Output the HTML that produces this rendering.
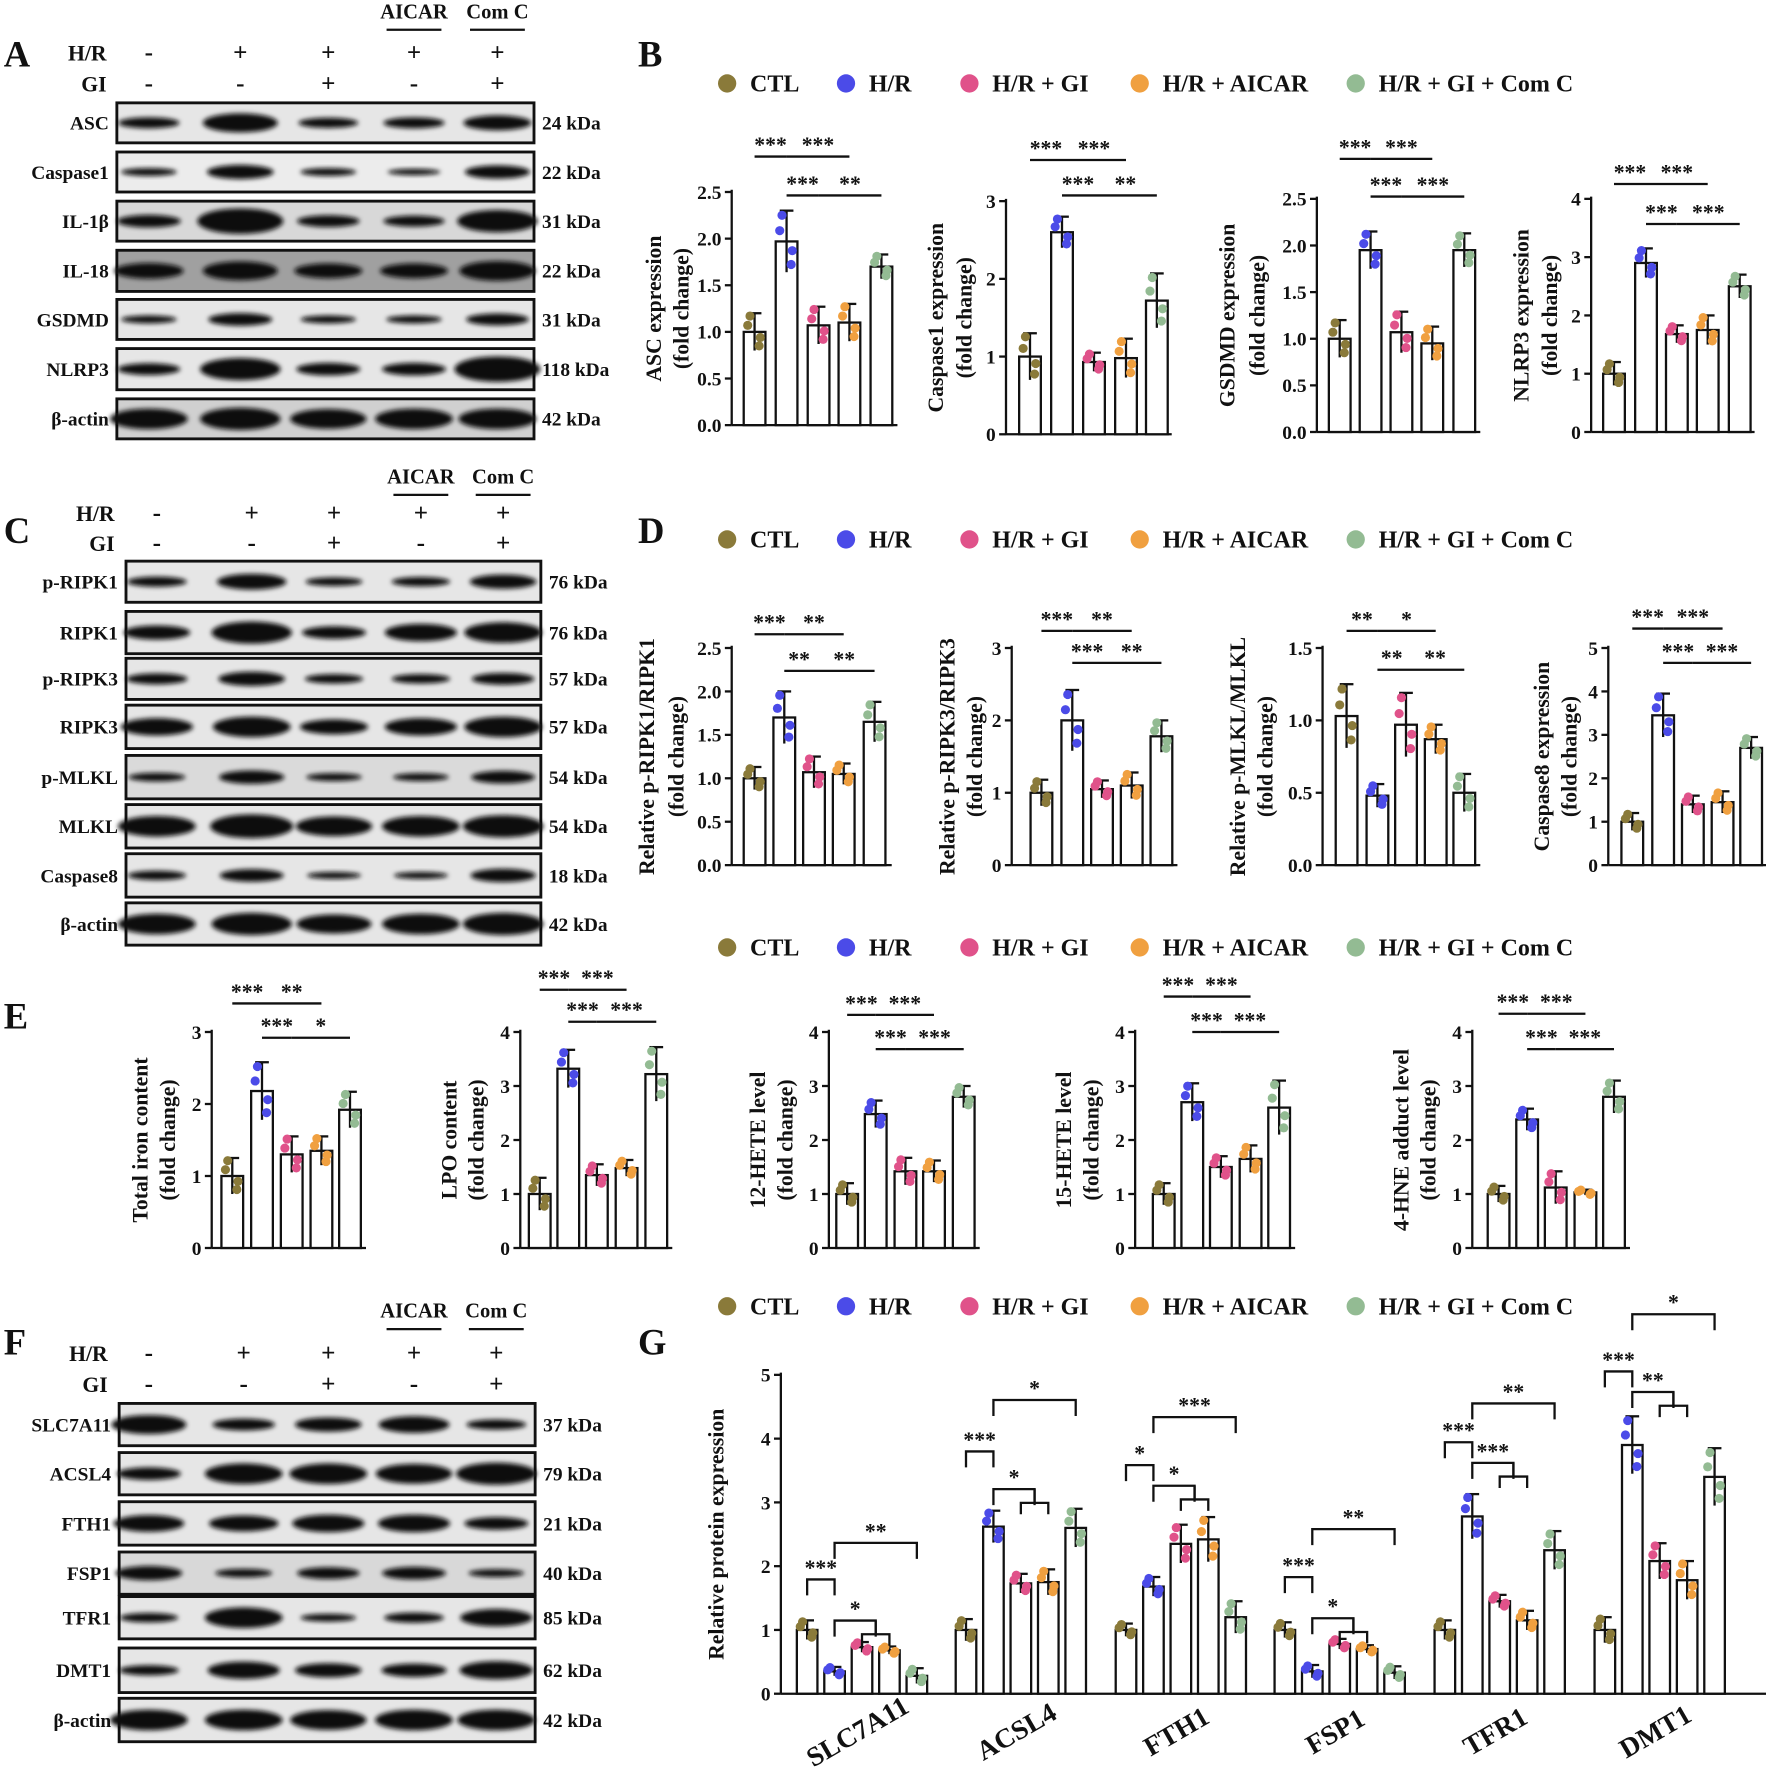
<!DOCTYPE html>
<html><head><meta charset="utf-8">
<style>
html,body{margin:0;padding:0;background:#fff;}
svg{display:block;font-family:"Liberation Serif",serif;font-weight:bold;}
</style></head>
<body>
<svg id="fig" width="1772" height="1792" viewBox="0 0 1550 1568" xmlns="http://www.w3.org/2000/svg">
<defs><filter id="blur" x="-20%" y="-50%" width="140%" height="200%"><feGaussianBlur stdDeviation="2.2"/></filter></defs>
</svg>
<script>
const colors=['#8a7a3a','#4b4be8','#e0528a','#f0a040','#93bb93'];
const groups=['CTL','H/R','H/R + GI','H/R + AICAR','H/R + GI + Com C'];

// ---- Panel B data ----
const ascVals=[1.0,1.97,1.07,1.1,1.7], ascErr=[0.2,0.33,0.2,0.2,0.13];
const casp1Vals=[1.0,2.6,0.93,0.98,1.72], casp1Err=[0.3,0.2,0.12,0.25,0.35];
const gsdmdVals=[1.0,1.95,1.07,0.95,1.95], gsdmdErr=[0.2,0.2,0.22,0.18,0.18];
const nlrp3Vals=[1.0,2.9,1.68,1.75,2.5], nlrp3Err=[0.2,0.25,0.15,0.25,0.2];
// ---- Panel D data ----
const ripk1Vals=[1.0,1.7,1.07,1.05,1.65], ripk1Err=[0.13,0.3,0.18,0.12,0.23];
const ripk3Vals=[1.0,2.0,1.05,1.1,1.78], ripk3Err=[0.18,0.42,0.12,0.18,0.22];
const mlklVals=[1.03,0.48,0.97,0.87,0.5], mlklErr=[0.22,0.08,0.22,0.1,0.13];
const casp8Vals=[1.0,3.45,1.4,1.45,2.7], casp8Err=[0.2,0.5,0.2,0.25,0.25];
// ---- Panel E data ----
const ironVals=[1.0,2.18,1.3,1.35,1.92], ironErr=[0.25,0.4,0.25,0.2,0.25];
const lpoVals=[1.0,3.32,1.35,1.48,3.22], lpoErr=[0.3,0.35,0.2,0.15,0.5];
const hete12Vals=[1.0,2.48,1.42,1.42,2.8], hete12Err=[0.2,0.25,0.25,0.2,0.2];
const hete15Vals=[1.0,2.7,1.5,1.65,2.6], hete15Err=[0.2,0.35,0.2,0.25,0.5];
const hneVals=[1.0,2.38,1.12,1.03,2.8], hneErr=[0.15,0.2,0.3,0.05,0.3];
// ---- Panel G data ----
const gCats=['SLC7A11','ACSL4','FTH1','FSP1','TFR1','DMT1'];
const gVals=[[1.0,0.35,0.73,0.68,0.28],[1.0,2.62,1.73,1.75,2.6],[1.0,1.68,2.35,2.42,1.2],[1.0,0.35,0.78,0.7,0.33],[1.0,2.78,1.45,1.15,2.25],[1.0,3.9,2.08,1.78,3.4]];
const gErr=[[0.15,0.07,0.08,0.06,0.12],[0.17,0.25,0.15,0.2,0.3],[0.1,0.15,0.3,0.35,0.25],[0.12,0.1,0.08,0.06,0.1],[0.15,0.35,0.1,0.15,0.3],[0.2,0.45,0.28,0.3,0.45]];
const gTicks=[0,1,2,3,4,5];
const jit=[0.85,-0.3,0.35,-0.75];
const jx=[-4,5,-6,4];

const svg=document.getElementById('fig');
const NS='http://www.w3.org/2000/svg';
function el(tag,attrs,parent,text){const e=document.createElementNS(NS,tag);for(const k in attrs)e.setAttribute(k,attrs[k]);if(text!==undefined)e.textContent=text;(parent||svg).appendChild(e);return e;}
function txt(x,y,s,size,parent,anchor,name,rot){const t=el('text',{x:x,y:y,'font-size':size,'text-anchor':anchor||'middle',fill:'#111'},parent,s);if(rot)t.setAttribute('transform','rotate(-90 '+x+' '+y+')');

return t;}

function chart(o){
 const g=el('g',{});
 
 
 const y=v=>o.y0-(v/o.ymax)*(o.y0-o.ytop);
 const bw=o.bw||19;
 el('line',{x1:o.ax,y1:o.ytop-2,x2:o.ax,y2:o.y0,stroke:'#111','stroke-width':2},g);
 el('line',{x1:o.ax,y1:o.y0,x2:o.xend,y2:o.y0,stroke:'#111','stroke-width':2},g);
 o.ticks.forEach(t=>{el('line',{x1:o.ax-6,y1:y(t),x2:o.ax,y2:y(t),stroke:'#111','stroke-width':2},g);
  txt(o.ax-9,y(t)+6,o.tickFmt?t.toFixed(1):String(t),17,g,'end','y-tick-label');});
 const mid=(o.y0+o.ytop)/2;
 txt(o.ax-(o.lx1||62),mid,o.ylab1,19,g,'middle','y-axis-title',true);
 if(o.ylab2)txt(o.ax-(o.lx2||38),mid,o.ylab2,19,g,'middle','y-axis-title',true);
 o.series.forEach((s,si)=>{
  s.vals.forEach((v,i)=>{
   const cx=s.xs[i];
   const r=el('rect',{x:cx-bw/2,y:y(v),width:bw,height:o.y0-y(v),fill:'#fff',stroke:'#111','stroke-width':2},g);
   
   
   const e=s.err[i];
   el('line',{x1:cx,y1:y(v+e),x2:cx,y2:y(Math.max(0,v-e)),stroke:'#111','stroke-width':2},g);
   el('line',{x1:cx-6,y1:y(v+e),x2:cx+6,y2:y(v+e),stroke:'#111','stroke-width':2},g);
   jit.forEach((j,k)=>{const c=el('circle',{cx:cx+jx[k],cy:y(Math.max(0,v+j*e)),r:4,fill:colors[i]},g);
    
    });
  });
 });
 (o.sig||[]).forEach(sg=>{
  const xs=o.series[0].xs;const a=xs[sg[0]],b=xs[sg[1]];
  el('line',{x1:a,y1:sg[2],x2:b,y2:sg[2],stroke:'#111','stroke-width':2},g);
  txt((a+b)/2,sg[2]-4,sg[3],19,g,'middle','significance-label');
 });
 return {g,y};
}
const S=(vals,err,xs,name)=>[{vals,err,xs,name}];
// Panel B
chart({name:'asc-chart',ax:640,y0:372,ytop:168,ymax:2.5,ticks:[0,0.5,1,1.5,2,2.5],tickFmt:1,xend:785,ylab1:'ASC expression',ylab2:'(fold change)',series:S(ascVals,ascErr,[660,688,716,743,771],'asc'),sig:[[0,1,137,'***'],[1,3,137,'***'],[1,2,171,'***'],[2,4,171,'**']]});
chart({name:'caspase1-chart',ax:880,y0:380,ytop:176,ymax:3,ticks:[0,1,2,3],xend:1025,ylab1:'Caspase1 expression',ylab2:'(fold change)',lx1:55,lx2:30,series:S(casp1Vals,casp1Err,[901,929,957,985,1012],'caspase1'),sig:[[0,1,140,'***'],[1,3,140,'***'],[1,2,171,'***'],[2,4,171,'**']]});
chart({name:'gsdmd-chart',ax:1152,y0:378,ytop:174,ymax:2.5,ticks:[0,0.5,1,1.5,2,2.5],tickFmt:1,xend:1295,ylab1:'GSDMD expression',ylab2:'(fold change)',lx1:72,lx2:46,series:S(gsdmdVals,gsdmdErr,[1172,1199,1226,1253,1281],'gsdmd'),sig:[[0,1,139,'***'],[1,3,139,'***'],[1,2,172,'***'],[2,4,172,'***']]});
chart({name:'nlrp3-chart',ax:1392,y0:378,ytop:174,ymax:4,ticks:[0,1,2,3,4],xend:1535,ylab1:'NLRP3 expression',ylab2:'(fold change)',lx1:55,lx2:30,series:S(nlrp3Vals,nlrp3Err,[1412,1440,1467,1494,1522],'nlrp3'),sig:[[0,1,161,'***'],[1,3,161,'***'],[1,2,196,'***'],[2,4,196,'***']]});
// Panel D
chart({name:'p-ripk1-chart',ax:640,y0:757,ytop:567,ymax:2.5,ticks:[0,0.5,1,1.5,2,2.5],tickFmt:1,xend:780,ylab1:'Relative p-RIPK1/RIPK1',ylab2:'(fold change)',lx1:68,lx2:42,series:S(ripk1Vals,ripk1Err,[660,686,712,738,765],'p-ripk1'),sig:[[0,1,555,'***'],[1,3,555,'**'],[1,2,587,'**'],[2,4,587,'**']]});
chart({name:'p-ripk3-chart',ax:885,y0:757,ytop:567,ymax:3,ticks:[0,1,2,3],xend:1030,ylab1:'Relative p-RIPK3/RIPK3',ylab2:'(fold change)',lx1:50,lx2:26,series:S(ripk3Vals,ripk3Err,[911,938,964,990,1016],'p-ripk3'),sig:[[0,1,552,'***'],[1,3,552,'**'],[1,2,580,'***'],[2,4,580,'**']]});
chart({name:'p-mlkl-chart',ax:1157,y0:757,ytop:567,ymax:1.5,ticks:[0,0.5,1,1.5],tickFmt:1,xend:1295,ylab1:'Relative p-MLKL/MLKL',ylab2:'(fold change)',lx1:68,lx2:44,series:S(mlklVals,mlklErr,[1178,1205,1230,1256,1281],'p-mlkl'),sig:[[0,1,552,'**'],[1,3,552,'*'],[1,2,586,'**'],[2,4,586,'**']]});
chart({name:'caspase8-chart',ax:1407,y0:757,ytop:567,ymax:5,ticks:[0,1,2,3,4,5],xend:1545,ylab1:'Caspase8 expression',ylab2:'(fold change)',lx1:52,lx2:28,series:S(casp8Vals,casp8Err,[1428,1455,1481,1507,1532],'caspase8'),sig:[[0,1,550,'***'],[1,3,550,'***'],[1,2,580,'***'],[2,4,580,'***']]});
// Panel E
chart({name:'iron-chart',ax:185,y0:1092,ytop:903,ymax:3,ticks:[0,1,2,3],xend:320,ylab1:'Total iron content',ylab2:'(fold change)',lx1:56,lx2:32,series:S(ironVals,ironErr,[203,229,255,281,306],'iron'),sig:[[0,1,878,'***'],[1,3,878,'**'],[1,2,908,'***'],[2,4,908,'*']]});
chart({name:'lpo-chart',ax:455,y0:1092,ytop:903,ymax:4,ticks:[0,1,2,3,4],xend:588,ylab1:'LPO content',ylab2:'(fold change)',lx1:56,lx2:32,series:S(lpoVals,lpoErr,[472,497,522,548,574],'lpo'),sig:[[0,1,866,'***'],[1,3,866,'***'],[1,2,894,'***'],[2,4,894,'***']]});
chart({name:'hete12-chart',ax:725,y0:1092,ytop:903,ymax:4,ticks:[0,1,2,3,4],xend:857,ylab1:'12-HETE level',ylab2:'(fold change)',lx1:56,lx2:32,series:S(hete12Vals,hete12Err,[741,766,792,817,843],'hete12'),sig:[[0,1,888,'***'],[1,3,888,'***'],[1,2,918,'***'],[2,4,918,'***']]});
chart({name:'hete15-chart',ax:993,y0:1092,ytop:903,ymax:4,ticks:[0,1,2,3,4],xend:1133,ylab1:'15-HETE level',ylab2:'(fold change)',lx1:56,lx2:32,series:S(hete15Vals,hete15Err,[1018,1043,1068,1094,1119],'hete15'),sig:[[0,1,872,'***'],[1,3,872,'***'],[1,2,903,'***'],[2,4,903,'***']]});
chart({name:'hne-chart',ax:1288,y0:1092,ytop:903,ymax:4,ticks:[0,1,2,3,4],xend:1426,ylab1:'4-HNE adduct level',ylab2:'(fold change)',lx1:56,lx2:32,series:S(hneVals,hneErr,[1311,1336,1361,1387,1412],'hne'),sig:[[0,1,887,'***'],[1,3,887,'***'],[1,2,918,'***'],[2,4,918,'***']]});
// Panel G
const gStarts=[706,845,985,1124,1264,1404];
const gSeries=gCats.map((c,i)=>({vals:gVals[i],err:gErr[i],xs:[0,1,2,3,4].map(k=>gStarts[i]+k*24),name:c}));
const G=chart({name:'protein-expression-chart',ax:683,y0:1482,ytop:1203,ymax:5,ticks:gTicks,xend:1545,bw:18,ylab1:'Relative protein expression',lx1:50,series:gSeries});
gSeries.forEach((s,i)=>{const t=txt(s.xs[2],1522,gCats[i],24,svg,'middle','x-tick-label-'+gCats[i]);t.setAttribute('transform','rotate(-30 '+(s.xs[2])+' 1522)');});
const gSig=[[0,'***','*','**',1382,1400,1350],[1,'***','*','*',1270,1285,1225],[2,'*','*','***',1282,1282,1240],[3,'***','*','**',1380,1398,1338],[4,'***','***','**',1262,1262,1228],[5,'***','**','*',1200,1200,1150]];
gSig.forEach(q=>{const xs=gSeries[q[0]].xs;
 const br=(a,b,y,t)=>{el('path',{d:`M${a} ${y+14}V${y}H${b}V${y+14}`,fill:'none',stroke:'#111','stroke-width':2});txt((a+b)/2,y-4,t,19,svg,'middle','significance-label');};
 br(xs[0],xs[1],q[4],q[1]);
 el('path',{d:`M${xs[2]} ${q[5]+40}V${q[5]+30}H${xs[3]}V${q[5]+40} M${(xs[2]+xs[3])/2} ${q[5]+30}V${q[5]+18}`,fill:'none',stroke:'#111','stroke-width':2});
 br(xs[1],(xs[2]+xs[3])/2,q[5]+18,q[2]);
 br(xs[1],xs[4],q[6],q[3]);
});

// Legends
[73,472,829,1143].forEach((ly,li)=>{const lx=[636,740,848,997,1186];
 groups.forEach((gn,i)=>{const c=el('circle',{cx:lx[i],cy:ly,r:8,fill:colors[i]});
  
  
  txt(lx[i]+20,ly+7,gn,21,svg,'start','legend-entry');});});

// Panel letters
[['A',3,58],['B',558,58],['C',3,475],['D',558,475],['E',3,900],['F',3,1185],['G',558,1185]].forEach(p=>txt(p[1],p[2],p[0],32,svg,'start','panel-letter-'+p[0]));

// Blots
function blot(o){
 const g=el('g',{});
 
 
 const hdr=o.hdr;
 txt(hdr.labx,hdr.hy,'H/R',19,g,'end','hr-row-label');txt(hdr.labx,hdr.gy,'GI',19,g,'end','gi-row-label');
 const hr=['-','+','+','+','+'],gi=['-','-','+','-','+'];
 o.lanes.forEach((lx,i)=>{txt(lx,hdr.hy,hr[i],22,g,'middle','hr-sign');txt(lx,hdr.gy,gi[i],22,g,'middle','gi-sign');});
 txt(o.lanes[3],hdr.ty,'AICAR',18,g,'middle','aicar-label');txt(o.lanes[4],hdr.ty,'Com C',18,g,'middle','comc-label');
 el('line',{x1:o.lanes[3]-24,y1:hdr.ty+10,x2:o.lanes[3]+24,y2:hdr.ty+10,stroke:'#111','stroke-width':2},g);
 el('line',{x1:o.lanes[4]-24,y1:hdr.ty+10,x2:o.lanes[4]+24,y2:hdr.ty+10,stroke:'#111','stroke-width':2},g);
 o.rows.forEach(r=>{
  const h=r[2]-r[1];
  el('rect',{x:o.x1,y:r[1],width:o.x2-o.x1,height:h,fill:r[5]||'#e6e6e6',stroke:'#111','stroke-width':2.5},g);
  r[3].forEach((w,i)=>{const b=el('ellipse',{cx:o.lanes[i],cy:r[1]+h/2,rx:22+w*12,ry:2+w*7,fill:'#111',filter:'url(#blur)'},g);
   
   });
  txt(o.x1-7,r[1]+h/2+6,r[0],17,g,'end','protein-label');
  txt(o.x2+7,r[1]+h/2+6,r[4],17,g,'start','kda-label');
 });
}
blot({name:'blot-a',x1:102,x2:467,lanes:[130,210,287,362,435],hdr:{labx:93,hy:53,gy:80,ty:16},rows:[
 ['ASC',90,125,[0.4,0.9,0.35,0.4,0.65],'24 kDa'],['Caspase1',133,168,[0.2,0.6,0.2,0.1,0.55],'22 kDa','#ececec'],['IL-1β',176,211,[0.5,1.3,0.45,0.4,1.1],'31 kDa','#d8d8d8'],['IL-18',219,255,[0.7,0.9,0.65,0.65,0.95],'22 kDa','#a0a0a0'],['GSDMD',262,297,[0.2,0.5,0.2,0.2,0.45],'31 kDa'],['NLRP3',305,341,[0.45,1.1,0.5,0.5,1.3],'118 kDa'],['β-actin',349,384,[1,1.1,0.95,1,1],'42 kDa','#d0d0d0']]});
blot({name:'blot-c',x1:110,x2:473,lanes:[137,220,292,368,440],hdr:{labx:100,hy:456,gy:482,ty:423},rows:[
 ['p-RIPK1',491,527,[0.35,0.7,0.25,0.3,0.6],'76 kDa'],['RIPK1',535,572,[0.6,1.1,0.5,0.8,1.0],'76 kDa'],['p-RIPK3',576,612,[0.4,0.6,0.3,0.3,0.45],'57 kDa'],['RIPK3',617,655,[0.8,1.0,0.65,0.8,1.0],'57 kDa'],['p-MLKL',661,699,[0.25,0.55,0.2,0.2,0.5],'54 kDa','#dadada'],['MLKL',704,742,[1,1.2,0.95,1,1.1],'54 kDa'],['Caspase8',747,785,[0.3,0.5,0.15,0.15,0.55],'18 kDa'],['β-actin',790,827,[1,1.1,0.9,1,1.1],'42 kDa']]});
blot({name:'blot-f',x1:104,x2:468,lanes:[130,213,287,362,434],hdr:{labx:94,hy:1191,gy:1218,ty:1153},rows:[
 ['SLC7A11',1228,1265,[0.9,0.45,0.6,0.75,0.35],'37 kDa'],['ACSL4',1271,1308,[0.5,1.0,1.0,0.95,1.1],'79 kDa'],['FTH1',1314,1352,[0.75,0.7,0.8,0.8,0.5],'21 kDa'],['FSP1',1358,1395,[0.6,0.25,0.45,0.5,0.2],'40 kDa','#d8d8d8'],['TFR1',1397,1434,[0.3,1.0,0.2,0.35,0.8],'85 kDa'],['DMT1',1442,1481,[0.35,0.8,0.6,0.55,0.85],'62 kDa'],['β-actin',1486,1524,[1,1,0.95,1,1],'42 kDa']]});
</script>
</body></html>
